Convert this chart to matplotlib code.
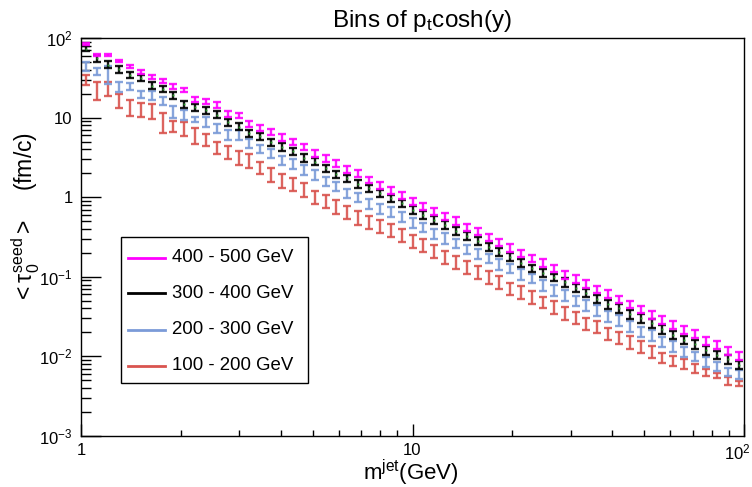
import numpy as np
import matplotlib
matplotlib.use('Agg')
import matplotlib.pyplot as plt
import matplotlib.transforms as mtransforms
from matplotlib.ticker import LogLocator, NullFormatter
from matplotlib.patches import Rectangle
from matplotlib.lines import Line2D

plt.rcParams['font.family'] = ['Liberation Sans', 'DejaVu Sans']
plt.rcParams['mathtext.fontset'] = 'custom'
plt.rcParams['mathtext.rm'] = 'Liberation Sans'
plt.rcParams['mathtext.it'] = 'Liberation Sans'
plt.rcParams['mathtext.sf'] = 'Liberation Sans'

# ---- data ----
m_lo, m_hi, n_bins = 1.0, 100.0, 61

labels = ['400 - 500 GeV', '300 - 400 GeV', '200 - 300 GeV', '100 - 200 GeV']
colors = ['#ff00ff', '#000000', '#7b9bd8', '#d9544f']

tau_400_500 = [84.1, 61.2, 61.2, 51.4, 43.6, 37.7, 32.6, 29.1, 24.9, 22.2,
               17.0, 15.8, 14.4, 11.1, 10.6, 8.31, 7.40, 6.59, 5.65, 4.91,
               4.31, 3.56, 3.08, 2.67, 2.24, 2.00, 1.64, 1.42, 1.23, 1.07,
               0.878, 0.775, 0.671, 0.580, 0.502, 0.419, 0.369, 0.313, 0.268, 0.232,
               0.197, 0.171, 0.150, 0.128, 0.106, 0.0938, 0.0812, 0.0697, 0.0608, 0.0522,
               0.0451, 0.0391, 0.0331, 0.0287, 0.0248, 0.0215, 0.0191, 0.0157, 0.0139, 0.0118,
               0.0101]
tau_300_400 = [73.2, 55.3, 46.1, 40.4, 34.3, 31.7, 25.3, 23.2, 19.1, 14.7,
               13.5, 12.5, 10.9, 8.75, 7.69, 6.35, 5.87, 4.91, 4.31, 3.77,
               3.13, 2.79, 2.31, 1.94, 1.73, 1.47, 1.29, 1.12, 0.969, 0.838,
               0.691, 0.598, 0.517, 0.447, 0.376, 0.326, 0.282, 0.239, 0.207, 0.179,
               0.150, 0.128, 0.113, 0.0986, 0.0855, 0.0730, 0.0631, 0.0526, 0.0451, 0.0402,
               0.0338, 0.0301, 0.0260, 0.0219, 0.0186, 0.0161, 0.0142, 0.0120, 0.0104, 0.00920,
               0.00780]
tau_200_300 = [44.1, 37.7, 35.3, 24.4, 24.4, 19.8, 19.2, 16.2, 11.9, 10.8,
               9.60, 8.88, 7.34, 6.05, 6.05, 4.75, 4.06, 3.57, 2.93, 2.64,
               2.20, 1.90, 1.61, 1.38, 1.12, 0.997, 0.838, 0.725, 0.652, 0.569,
               0.478, 0.419, 0.352, 0.305, 0.264, 0.222, 0.197, 0.171, 0.144, 0.128,
               0.108, 0.0958, 0.0789, 0.0683, 0.0591, 0.0501, 0.0442, 0.0383, 0.0322, 0.0287,
               0.0241, 0.0204, 0.0186, 0.0153, 0.0135, 0.0115, 0.0101, 0.00858, 0.00743, 0.00642,
               0.00596]
tau_100_200 = [29.9, 22.2, 23.3, 16.6, 13.5, 12.7, 12.2, 8.88, 7.84, 7.34,
               6.05, 5.34, 4.24, 3.73, 3.17, 2.91, 2.36, 1.93, 1.63, 1.46,
               1.26, 1.01, 0.904, 0.760, 0.652, 0.564, 0.488, 0.435, 0.387, 0.335,
               0.284, 0.251, 0.211, 0.179, 0.155, 0.134, 0.116, 0.100, 0.0868, 0.0717,
               0.0650, 0.0562, 0.0482, 0.0417, 0.0354, 0.0310, 0.0260, 0.0236, 0.0195, 0.0174,
               0.0153, 0.0132, 0.0115, 0.00974, 0.00883, 0.00803, 0.00709, 0.00624, 0.00584, 0.00495,
               0.00459]

# relative errors
err_400_500 = [0.03, 0.03, 0.03, 0.04, 0.05, 0.06, 0.06, 0.06, 0.07, 0.06,
               0.07, 0.07, 0.08, 0.08, 0.08, 0.08, 0.09, 0.08, 0.09, 0.09,
               0.09, 0.09, 0.10, 0.09, 0.10, 0.10, 0.09, 0.10, 0.10, 0.10,
               0.10, 0.10, 0.10, 0.10, 0.11, 0.10, 0.10, 0.11, 0.10, 0.11,
               0.10, 0.11, 0.11, 0.10, 0.11, 0.11, 0.11, 0.11, 0.11, 0.11,
               0.11, 0.11, 0.11, 0.11, 0.11, 0.12, 0.11, 0.11, 0.12, 0.11,
               0.12]
err_300_400 = [0.07, 0.09, 0.10, 0.09, 0.09, 0.09, 0.10, 0.09, 0.10, 0.10,
               0.10, 0.10, 0.10, 0.10, 0.10, 0.11, 0.10, 0.10, 0.11, 0.10,
               0.11, 0.10, 0.11, 0.11, 0.10, 0.11, 0.11, 0.10, 0.11, 0.11,
               0.11, 0.11, 0.11, 0.11, 0.11, 0.11, 0.11, 0.12, 0.11, 0.11,
               0.12, 0.11, 0.12, 0.11, 0.12, 0.12, 0.11, 0.12, 0.12, 0.12,
               0.12, 0.12, 0.12, 0.12, 0.12, 0.12, 0.12, 0.12, 0.12, 0.12,
               0.12]
err_200_300 = [0.12, 0.10, 0.25, 0.15, 0.10, 0.10, 0.14, 0.12, 0.16, 0.14,
               0.07, 0.14, 0.12, 0.14, 0.14, 0.12, 0.12, 0.12, 0.14, 0.14,
               0.14, 0.14, 0.13, 0.14, 0.14, 0.13, 0.14, 0.14, 0.14, 0.14,
               0.14, 0.14, 0.14, 0.15, 0.14, 0.14, 0.15, 0.14, 0.15, 0.14,
               0.15, 0.14, 0.15, 0.15, 0.15, 0.14, 0.15, 0.15, 0.15, 0.15,
               0.15, 0.15, 0.15, 0.14, 0.15, 0.14, 0.14, 0.13, 0.13, 0.12,
               0.12]
err_100_200 = [0.14, 0.25, 0.20, 0.20, 0.23, 0.21, 0.21, 0.27, 0.17, 0.21,
               0.22, 0.18, 0.17, 0.19, 0.19, 0.21, 0.17, 0.20, 0.21, 0.19,
               0.21, 0.19, 0.18, 0.20, 0.19, 0.20, 0.18, 0.19, 0.18, 0.19,
               0.18, 0.18, 0.19, 0.18, 0.18, 0.18, 0.18, 0.18, 0.18, 0.17,
               0.18, 0.18, 0.17, 0.18, 0.18, 0.18, 0.18, 0.17, 0.18, 0.17,
               0.18, 0.17, 0.17, 0.14, 0.14, 0.14, 0.12, 0.10, 0.07, 0.12,
               0.07]

series = [tau_400_500, tau_300_400, tau_200_300, tau_100_200]
errors = [err_400_500, err_300_400, err_200_300, err_100_200]

edges = np.logspace(np.log10(m_lo), np.log10(m_hi), n_bins + 1)
m_centers = np.sqrt(edges[:-1] * edges[1:])

# ---- figure ----
W, H = 752, 487
fig = plt.figure(figsize=(W / 100, H / 100), dpi=100)
L, R, T, B = 81, 744, 38, 436
ax = fig.add_axes([L / W, 1 - B / H, (R - L) / W, (B - T) / H])

# draw back to front: red, blue, black, magenta
for vals, errs, col in reversed(list(zip(series, errors, colors))):
    v = np.array(vals)
    e = v * np.array(errs)
    ax.errorbar(m_centers, v, yerr=e, fmt='none', ecolor=col, elinewidth=1.7,
                capsize=2.6, capthick=1.7, alpha=0.9)
    if col == '#000000':
        ax.plot(m_centers, v, ls='none', marker='s', ms=1.3, color='#2a9d2a', mew=0)

ax.set_xscale('log')
ax.set_yscale('log')
ax.set_xlim(m_lo, m_hi)
ax.set_ylim(1e-3, 1e2)

ax.set_xticks([1, 10, 100])
ax.set_xticklabels(['1', '10', r'$10^{2}$'])
ax.set_yticks([1e-3, 1e-2, 1e-1, 1, 10, 100])
ax.set_yticklabels([r'$10^{-3}$', r'$10^{-2}$', r'$10^{-1}$', '1', '10', r'$10^{2}$'])
ax.xaxis.set_minor_locator(LogLocator(base=10, subs=np.arange(2, 10)))
ax.yaxis.set_minor_locator(LogLocator(base=10, subs=np.arange(2, 10)))
ax.xaxis.set_minor_formatter(NullFormatter())
ax.yaxis.set_minor_formatter(NullFormatter())

ax.tick_params(axis='both', which='both', direction='in', top=False, right=False,
               labelsize=12, width=1, color='black')
ax.tick_params(axis='y', which='major', length=14.4, pad=6)
ax.tick_params(axis='y', which='minor', length=7.2)
ax.tick_params(axis='x', which='major', length=8.6, pad=5)
ax.tick_params(axis='x', which='minor', length=4.3)
for sp in ax.spines.values():
    sp.set_linewidth(1.0)

# keep the last x label inside the canvas, as in the reference
last = ax.get_xticklabels()[-1]
last.set_transform(last.get_transform() +
                   mtransforms.ScaledTranslation(-7 / 100, 0, fig.dpi_scale_trans))

# titles
fig.text(422 / W, 1 - 21 / H, r'Bins of $\mathregular{p_{t}}$cosh(y)', fontsize=17.5,
         ha='center', va='center')
fig.text(411 / W, 1 - 473 / H, r'$\mathregular{m^{jet}}$(GeV)', fontsize=16,
         ha='center', va='center')
fig.text(26 / W, 1 - 218 / H, r'$\mathregular{<\tau_{0}^{seed}>}$    (fm/c)', fontsize=16.5,
         ha='center', va='center', rotation=90)

# legend box (ROOT style)
box_l, box_t, box_r, box_b = 121, 237, 308, 383
fig.patches.append(Rectangle((box_l / W, 1 - box_b / H), (box_r - box_l) / W,
                             (box_b - box_t) / H, transform=fig.transFigure,
                             facecolor='white', edgecolor='black', lw=1.0, zorder=5))
row_y = [258, 293, 330, 366]
for lab, col, yy in zip(labels, colors, row_y):
    fig.lines.append(Line2D([128 / W, 165 / W], [1 - yy / H, 1 - yy / H],
                            transform=fig.transFigure, color=col, lw=2.0, zorder=6))
    fig.text(172 / W, 1 - yy / H, lab, fontsize=13.4, ha='left', va='center', zorder=6)

fig.savefig('out.png', dpi=100)
